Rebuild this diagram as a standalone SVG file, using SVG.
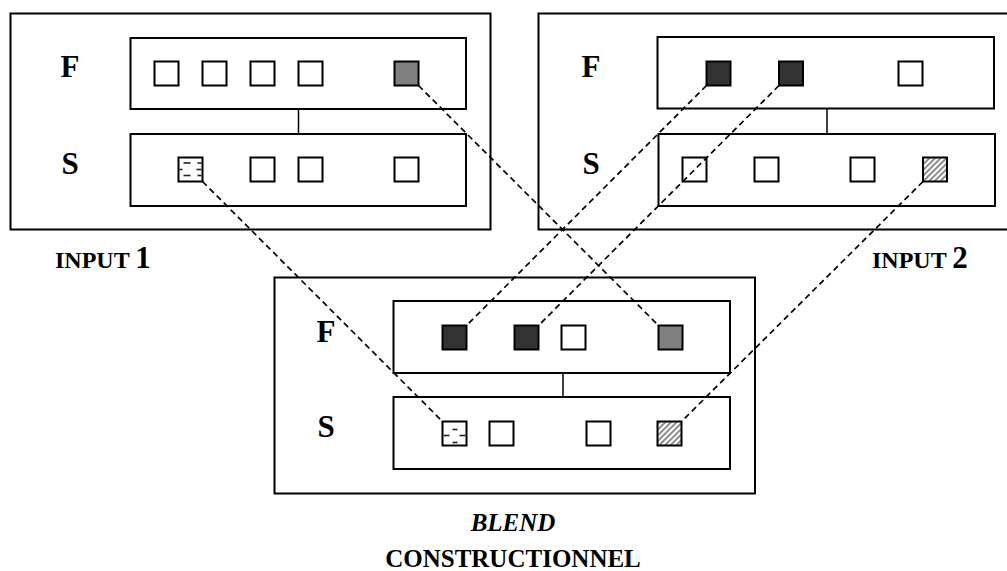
<svg xmlns="http://www.w3.org/2000/svg" width="1007" height="571" viewBox="0 0 1007 571">
<style>
.box{fill:none;stroke:#000;stroke-width:2}
.inner{fill:#fff;stroke:#000;stroke-width:2}
.sq{fill:#fff;stroke:#000;stroke-width:2}
.dark{fill:#333}
.gray{fill:#808080}
.hatch{fill:url(#hatch)}
.link{stroke:#000;stroke-width:1.5}
.dash{fill:none;stroke:#000;stroke-width:1.7;stroke-dasharray:6 4}
.lbl{font-family:"Liberation Serif","Times New Roman",serif;font-weight:bold;font-size:31px;text-anchor:middle}
.cap{font-family:"Liberation Serif","Times New Roman",serif;font-weight:bold}
</style>
<defs>
<pattern id="hatch" patternUnits="userSpaceOnUse" width="4" height="4" patternTransform="rotate(45)">
<rect width="4" height="4" fill="#fff"/>
<line x1="1" y1="0" x2="1" y2="4" stroke="#666" stroke-width="1.5"/>
</pattern>
<g id="dsq">
<rect x="0" y="0" width="24" height="24" fill="#fff" stroke="#000" stroke-width="2"/>
<g stroke="#222" stroke-width="1.6">
<line x1="5" y1="5.5" x2="12" y2="5.5"/><line x1="19" y1="5.5" x2="23" y2="5.5"/>
<line x1="1" y1="12" x2="4" y2="12"/><line x1="18" y1="12" x2="23" y2="12"/>
<line x1="5" y1="18" x2="12" y2="18"/><line x1="19" y1="18" x2="23" y2="18"/>
</g>
</g>
<g id="dsq2">
<rect x="0" y="0" width="24" height="24" fill="#fff" stroke="#000" stroke-width="2"/>
<g stroke="#222" stroke-width="1.6">
<line x1="10" y1="8" x2="15" y2="8"/>
<line x1="1" y1="14" x2="7" y2="14"/><line x1="17" y1="14" x2="23" y2="14"/>
<line x1="10" y1="21" x2="15" y2="21"/>
</g>
</g>
</defs>
<rect width="1007" height="571" fill="#fff"/>

<g id="input1">
<rect class="box" x="10.5" y="13.5" width="480" height="216"/>
<line class="link" x1="298.5" y1="109" x2="298.5" y2="134"/>
<rect class="inner" x="130.5" y="38" width="335.5" height="71"/>
<rect class="inner" x="130.5" y="134" width="335.5" height="72"/>
<text class="lbl" x="70" y="77">F</text>
<text class="lbl" x="70" y="174">S</text>
<rect class="sq" x="154.5" y="61.5" width="24" height="24"/>
<rect class="sq" x="202.5" y="61.5" width="24" height="24"/>
<rect class="sq" x="250.5" y="61.5" width="24" height="24"/>
<rect class="sq" x="298.5" y="61.5" width="24" height="24"/>
<rect class="sq gray" x="394.5" y="61.5" width="24" height="24"/>
<use href="#dsq" x="178.5" y="157.5"/>
<rect class="sq" x="250.5" y="157.5" width="24" height="24"/>
<rect class="sq" x="298.5" y="157.5" width="24" height="24"/>
<rect class="sq" x="394.5" y="157.5" width="24" height="24"/>
<text class="cap" x="55" y="268"><tspan font-size="24">INPUT </tspan><tspan font-size="31">1</tspan></text>
</g>

<g id="input2">
<rect class="box" x="538.5" y="13.5" width="480" height="216"/>
<line class="link" x1="827" y1="108" x2="827" y2="134"/>
<rect class="inner" x="657.5" y="37" width="336.5" height="71.5"/>
<rect class="inner" x="658.5" y="134" width="336.5" height="72"/>
<text class="lbl" x="591" y="77">F</text>
<text class="lbl" x="591" y="174">S</text>
<rect class="sq dark" x="706.5" y="61.5" width="24" height="24"/>
<rect class="sq dark" x="779" y="61.5" width="24" height="24"/>
<rect class="sq" x="898.5" y="61.5" width="24" height="24"/>
<rect class="sq" x="682.5" y="157.5" width="24" height="24"/>
<rect class="sq" x="754.5" y="157.5" width="24" height="24"/>
<rect class="sq" x="850.5" y="157.5" width="24" height="24"/>
<rect class="sq hatch" x="923" y="157.5" width="24" height="24"/>
<text class="cap" x="872" y="268"><tspan font-size="24">INPUT </tspan><tspan font-size="31">2</tspan></text>
</g>

<g id="blend">
<rect class="box" x="274.5" y="277.5" width="480.5" height="216"/>
<line class="link" x1="563" y1="373" x2="563" y2="397"/>
<rect class="inner" x="393.5" y="301" width="336.5" height="72"/>
<rect class="inner" x="393.5" y="397" width="336.5" height="72"/>
<text class="lbl" x="326" y="342">F</text>
<text class="lbl" x="326" y="437">S</text>
<rect class="sq dark" x="442.5" y="325.5" width="24" height="24"/>
<rect class="sq dark" x="514.5" y="325.5" width="24" height="24"/>
<rect class="sq" x="561.5" y="325.5" width="24" height="24"/>
<rect class="sq gray" x="658.5" y="325.5" width="24" height="24"/>
<use href="#dsq2" x="442.5" y="421.5"/>
<rect class="sq" x="489.5" y="421.5" width="24" height="24"/>
<rect class="sq" x="586.5" y="421.5" width="24" height="24"/>
<rect class="sq hatch" x="657.5" y="421.5" width="24" height="24"/>
<text class="cap" x="513" y="531" font-size="25" font-style="italic" text-anchor="middle">BLEND</text>
<text class="cap" x="513" y="567" font-size="25" text-anchor="middle">CONSTRUCTIONNEL</text>
</g>

<g id="connectors">
<line class="dash" x1="418.5" y1="85.5" x2="658.5" y2="325.5"/>
<line class="dash" x1="202.5" y1="181.5" x2="442.5" y2="421.5"/>
<line class="dash" x1="706.5" y1="85.5" x2="466.5" y2="325.5"/>
<line class="dash" x1="779" y1="85.5" x2="538.5" y2="325.5"/>
<line class="dash" x1="923" y1="181.5" x2="681.5" y2="421.5"/>
</g>
</svg>
